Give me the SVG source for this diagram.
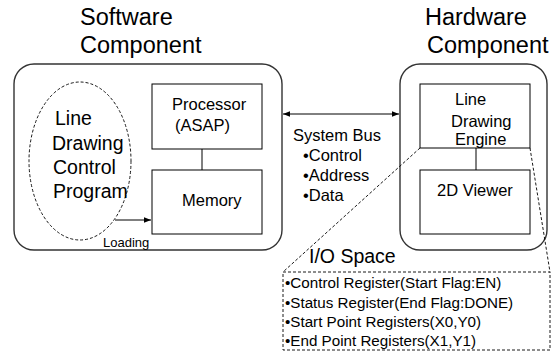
<svg xmlns="http://www.w3.org/2000/svg" width="553" height="352" viewBox="0 0 553 352">
<style>
text{font-family:"Liberation Sans",Arial,sans-serif;fill:#000}
.title{font-size:23.5px}
.big{font-size:19.5px}
.mid{font-size:16.5px}
.sm{font-size:13px}
.reg{font-size:15.2px}
.group{fill:none;stroke:#333;stroke-width:1.4}
.box{fill:none;stroke:#000;stroke-width:1}
.dash{fill:none;stroke:#000;stroke-width:0.9;stroke-dasharray:3,2}
.line{fill:none;stroke:#000;stroke-width:1}
</style>
<defs>
<marker id="ah" viewBox="0 0 10 10" refX="10" refY="5" markerWidth="9" markerHeight="7" markerUnits="userSpaceOnUse" orient="auto-start-reverse">
<path d="M0,1 L10,5 L0,9 Z" fill="#000"/>
</marker>
</defs>
<rect width="553" height="352" fill="#fff"/>
<g id="software">
<text class="title" x="80" y="25">Software</text>
<text class="title" x="80" y="53">Component</text>
<rect class="group" x="14" y="64" width="268" height="186" rx="20" ry="20"/>
</g>
<g id="hardware">
<text class="title" x="425" y="25">Hardware</text>
<text class="title" x="427" y="53">Component</text>
<rect class="group" x="400" y="64" width="147" height="186" rx="20" ry="20"/>
</g>
<g id="program">
<ellipse class="dash" cx="80" cy="161" rx="51" ry="79"/>
<text class="big" x="55" y="125">Line</text>
<text class="big" x="52" y="150">Drawing</text>
<text class="big" x="53" y="174">Control</text>
<text class="big" x="53" y="198">Program</text>
</g>
<g id="processor">
<rect class="box" x="152" y="84" width="110" height="65"/>
<text class="mid" x="172" y="110">Processor</text>
<text class="mid" x="175" y="131">(ASAP)</text>
</g>
<g id="memory">
<rect class="box" x="152" y="170" width="110" height="64"/>
<text class="mid" x="182" y="206">Memory</text>
</g>
<g id="lde">
<rect class="box" x="420" y="84" width="110" height="64"/>
<text class="mid" x="455" y="105">Line</text>
<text class="mid" x="451" y="127">Drawing</text>
<text class="mid" x="455" y="145">Engine</text>
</g>
<g id="viewer">
<rect class="box" x="420" y="170" width="110" height="64"/>
<text class="mid" x="437" y="196">2D Viewer</text>
</g>
<g id="bus">
<text class="mid" x="293" y="141">System Bus</text>
<text class="mid" x="303" y="160.5">•Control</text>
<text class="mid" x="303" y="180.5">•Address</text>
<text class="mid" x="303" y="200.5">•Data</text>
</g>
<g id="iospace">
<text class="big" x="309" y="263">I/O Space</text>
<rect class="dash" x="283" y="272" width="267" height="78"/>
<text class="reg" x="285" y="288">•Control Register(Start Flag:EN)</text>
<text class="reg" x="285" y="308">•Status Register(End Flag:DONE)</text>
<text class="reg" x="285" y="327">•Start Point Registers(X0,Y0)</text>
<text class="reg" x="285" y="346">•End Point Registers(X1,Y1)</text>
</g>
<g id="connectors">
<line class="line" x1="202" y1="149" x2="202" y2="170"/>
<line class="line" x1="476" y1="148" x2="476" y2="170"/>
<line class="line" x1="115" y1="220" x2="151" y2="220" marker-end="url(#ah)"/>
<text class="sm" x="103" y="247">Loading</text>
<line class="line" x1="283" y1="114" x2="399" y2="114" marker-start="url(#ah)" marker-end="url(#ah)"/>
<line class="dash" x1="420" y1="148" x2="283" y2="272"/>
<line class="dash" x1="530" y1="148" x2="550" y2="272"/>
</g>
</svg>
